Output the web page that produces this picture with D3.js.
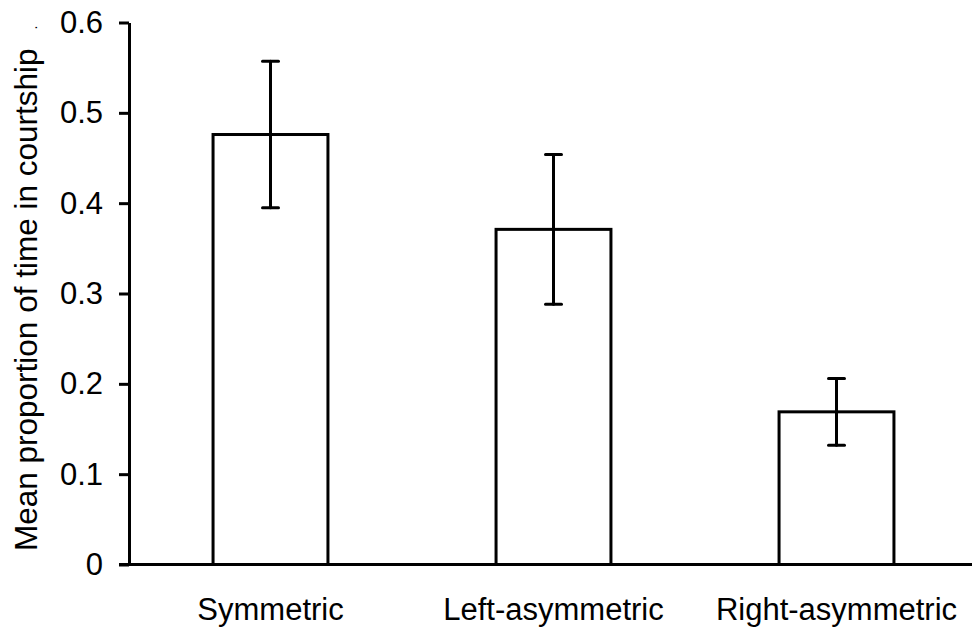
<!DOCTYPE html>
<html>
<head>
<meta charset="utf-8">
<script src="https://cdn.jsdelivr.net/npm/d3@7"></script>
<style>
  html, body { margin: 0; padding: 0; background: #fff; }
  svg { display: block; font-family: Arial, "Liberation Sans", sans-serif; }
</style>
</head>
<body>
<svg id="chart" width="972" height="634"></svg>
<script>
// Data
const groups = ['Symmetric', 'Left-asymmetric', 'Right-asymmetric'];
const means = [0.476, 0.371, 0.169];
const errors = [0.081, 0.083, 0.037];
const yTicks = [0, 0.1, 0.2, 0.3, 0.4, 0.5, 0.6];
const yTitle = 'Mean proportion of time in courtship';

const width = 972, height = 634;
const margin = { left: 129, right: -6, top: 22.5, bottom: 69.5 };
const fontSize = 31;

const svg = d3.select('#chart');

const xScale = d3.scaleBand()
  .domain(groups)
  .range([margin.left, width - margin.right])
  .paddingInner(0.594)
  .paddingOuter(0.297);

const yScale = d3.scaleLinear()
  .domain([0, 0.6])
  .range([height - margin.bottom, margin.top]);

const data = groups.map((g, i) => ({ group: g, mean: means[i], err: errors[i] }));

// Bars (open, black outline)
svg.append('g')
  .selectAll('rect')
  .data(data)
  .enter()
  .append('rect')
  .attr('x', d => xScale(d.group))
  .attr('y', d => yScale(d.mean))
  .attr('width', xScale.bandwidth())
  .attr('height', d => yScale(0) - yScale(d.mean))
  .attr('fill', 'none')
  .attr('stroke', '#000')
  .attr('stroke-width', 3);

// Error bars
const capHalf = 8;
const eb = svg.append('g')
  .attr('stroke', '#000')
  .attr('stroke-width', 3)
  .attr('stroke-linecap', 'round');

const ebGroups = eb.selectAll('g')
  .data(data)
  .enter()
  .append('g')
  .attr('transform', d => `translate(${xScale(d.group) + xScale.bandwidth() / 2},0)`);

ebGroups.append('line')
  .attr('y1', d => yScale(d.mean + d.err))
  .attr('y2', d => yScale(d.mean - d.err));
ebGroups.append('line')
  .attr('x1', -capHalf).attr('x2', capHalf)
  .attr('y1', d => yScale(d.mean + d.err))
  .attr('y2', d => yScale(d.mean + d.err));
ebGroups.append('line')
  .attr('x1', -capHalf).attr('x2', capHalf)
  .attr('y1', d => yScale(d.mean - d.err))
  .attr('y2', d => yScale(d.mean - d.err));

// Y axis
const yAxis = d3.axisLeft(yScale)
  .tickValues(yTicks)
  .tickFormat(d => d === 0 ? '0' : d3.format('.1f')(d))
  .tickSizeInner(10)
  .tickSizeOuter(0)
  .tickPadding(16);

const yAxisG = svg.append('g')
  .attr('transform', `translate(${margin.left},0)`)
  .call(yAxis);
yAxisG.select('.domain').attr('stroke-width', 3);
yAxisG.selectAll('.tick line').attr('stroke-width', 3);
yAxisG.selectAll('.tick text')
  .attr('font-size', fontSize)
  .attr('font-family', 'Arial, "Liberation Sans", sans-serif')
  .attr('fill', '#000');

// X axis
const xAxis = d3.axisBottom(xScale).tickSize(0).tickPadding(33);
const xAxisG = svg.append('g')
  .attr('transform', `translate(0,${yScale(0)})`)
  .call(xAxis);
xAxisG.select('.domain')
  .attr('d', `M${margin.left - 10},0H${width}`)
  .attr('stroke-width', 3);
xAxisG.selectAll('.tick text')
  .attr('font-size', fontSize)
  .attr('font-family', 'Arial, "Liberation Sans", sans-serif')
  .attr('fill', '#000');

// Y axis title
const yLabel = svg.append('text')
  .attr('transform', `translate(37,551) rotate(-90)`)
  .attr('text-anchor', 'start')
  .attr('font-size', 31.5)
  .attr('fill', '#000')
  .text(yTitle);
yLabel.append('tspan')
  .attr('dx', 19)
  .attr('font-size', 14)
  .text('.');
</script>
</body>
</html>
